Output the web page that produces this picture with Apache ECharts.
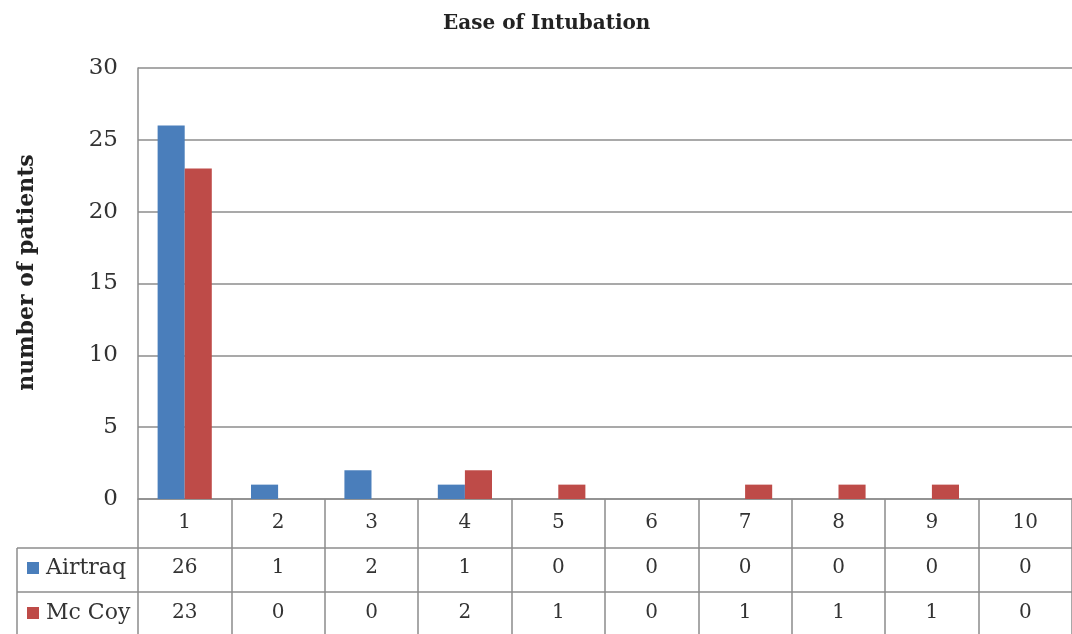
<!DOCTYPE html>
<html>
<head>
<meta charset="utf-8">
<script src="https://cdn.jsdelivr.net/npm/echarts@6/dist/echarts.min.js"></script>
<style>
  html, body { margin: 0; padding: 0; background: #fff; }
  #chart { width: 1072px; height: 634px; }
</style>
</head>
<body>
<div id="chart"></div>
<script>
const categories = ['1', '2', '3', '4', '5', '6', '7', '8', '9', '10'];
const airtraq = [26, 1, 2, 1, 0, 0, 0, 0, 0, 0];
const mcCoy = [23, 0, 0, 2, 1, 0, 1, 1, 1, 0];
const seriesNames = ['Airtraq', 'Mc Coy'];
const seriesColors = ['#4a7ebb', '#be4b48'];
const yTicks = { min: 0, max: 30, interval: 5 };

const serif = '"DejaVu Serif", "Liberation Serif", serif';
const lineColor = '#8c8c8c';
const textColor = '#333';

// table geometry (rows under the plot)
const tableLeft = 17;
const rowCenters = [568, 613];
const rowLines = [548, 592];

const myChart = echarts.init(document.getElementById('chart'));
myChart.setOption({
  animation: false,
  title: {
    text: 'Ease of Intubation',
    left: 438,
    top: 9,
    textStyle: { fontFamily: serif, fontWeight: 'bold', fontSize: 20, color: '#222' }
  },
  grid: { left: 138, top: 68, width: 943, height: 431 },
  xAxis: {
    type: 'category',
    data: categories,
    axisLine: { lineStyle: { color: lineColor, width: 1.5 } },
    axisTick: { show: true, length: 140, lineStyle: { color: lineColor, width: 1.5 } },
    axisLabel: { margin: 14, fontFamily: serif, fontSize: 20, color: textColor }
  },
  yAxis: {
    type: 'value',
    min: yTicks.min,
    max: yTicks.max,
    interval: yTicks.interval,
    name: 'number of patients',
    nameLocation: 'middle',
    nameGap: 100,
    nameTextStyle: {
      fontFamily: serif, fontWeight: 'bold', fontSize: 22, color: '#222',
      padding: [0, 0, 0, 22]
    },
    axisLine: { show: true, lineStyle: { color: lineColor, width: 1.5 } },
    axisTick: { show: false },
    splitLine: { lineStyle: { color: lineColor, width: 1.5 } },
    axisLabel: { margin: 20, fontFamily: serif, fontSize: 23, color: textColor }
  },
  series: [
    {
      name: seriesNames[0],
      type: 'bar',
      data: airtraq,
      barGap: 0,
      barCategoryGap: '42%',
      itemStyle: { color: seriesColors[0] }
    },
    {
      name: seriesNames[1],
      type: 'bar',
      data: mcCoy,
      itemStyle: { color: seriesColors[1] }
    }
  ]
});

// data table drawn under the category axis
const lineStyle = { stroke: lineColor, lineWidth: 1.5 };
const graphics = [];
rowLines.forEach(y => {
  graphics.push({ type: 'line', shape: { x1: tableLeft, y1: y, x2: 1072, y2: y }, style: lineStyle });
});
graphics.push({ type: 'line', shape: { x1: tableLeft, y1: rowLines[0], x2: tableLeft, y2: 634 }, style: lineStyle });
[airtraq, mcCoy].forEach((row, r) => {
  // legend key + series name in the first column
  graphics.push({
    type: 'rect',
    shape: { x: 27, y: rowCenters[r] - 6, width: 12, height: 12 },
    style: { fill: seriesColors[r] }
  });
  graphics.push({
    type: 'text',
    x: 46,
    y: rowCenters[r],
    style: {
      text: seriesNames[r],
      font: '22px ' + serif,
      fill: textColor,
      textAlign: 'left',
      textVerticalAlign: 'middle'
    }
  });
  row.forEach((v, i) => {
    const x = myChart.convertToPixel({ xAxisIndex: 0 }, i);
    graphics.push({
      type: 'text',
      x: x,
      y: rowCenters[r],
      style: {
        text: String(v),
        font: '20px ' + serif,
        fill: textColor,
        textAlign: 'center',
        textVerticalAlign: 'middle'
      }
    });
  });
});
myChart.setOption({ graphic: graphics });
</script>
</body>
</html>
